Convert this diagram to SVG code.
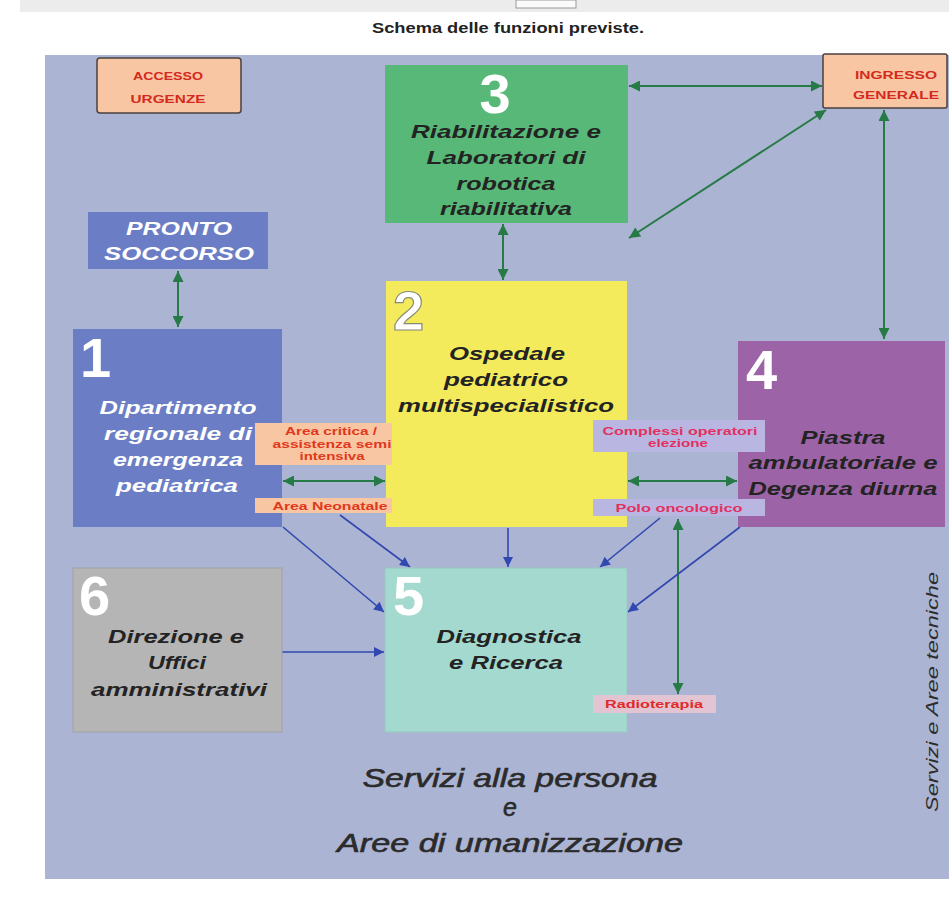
<svg xmlns="http://www.w3.org/2000/svg" width="949" height="900" viewBox="0 0 949 900">
<defs>
<marker id="ga" viewBox="0 0 10 10" refX="10" refY="5" markerUnits="userSpaceOnUse" markerWidth="13" markerHeight="11" orient="auto-start-reverse"><path d="M0,0 L10,5 L0,10 z" fill="#267a45"/></marker>
<marker id="ba" viewBox="0 0 10 10" refX="10" refY="5" markerUnits="userSpaceOnUse" markerWidth="11" markerHeight="10" orient="auto"><path d="M0,0 L10,5 L0,10 z" fill="#3048b0"/></marker>
<style>
.num{font-family:"Liberation Sans",Arial,sans-serif;font-weight:bold;font-size:56px;fill:#fff}
.t{font-family:"Liberation Sans",Arial,sans-serif;font-weight:bold;font-style:italic;font-size:18px;text-anchor:middle}
.dk{fill:#232323}
.wt{fill:#fff}
.lb{font-family:"Liberation Sans",Arial,sans-serif;font-weight:bold;font-size:10px;text-anchor:middle}
.rl{fill:#e0381c}
.pk{fill:#e23060}
.g{stroke:#267a45;stroke-width:2;fill:none}
.b{stroke:#3048b0;stroke-width:1.6;fill:none}
.big{font-family:"Liberation Sans",Arial,sans-serif;font-style:italic;font-size:25px;fill:#2b2b2b;stroke:#2b2b2b;stroke-width:0.6;text-anchor:middle}
</style>
</defs>
<rect width="949" height="900" fill="#fff"/>
<rect x="20" y="0" width="929" height="12" fill="#ececec"/>
<rect x="516" y="0" width="60" height="8" fill="#fafafa" stroke="#9a9a9a" stroke-width="1"/>
<text x="508" y="33" font-family="Liberation Sans, Arial, sans-serif" font-weight="bold" font-size="14" fill="#222" text-anchor="middle" textLength="272" lengthAdjust="spacingAndGlyphs">Schema delle funzioni previste.</text>
<rect x="45" y="55" width="904" height="824" fill="#abb4d3"/>

<g id="connectors">
<line class="g" x1="178" y1="271" x2="178" y2="327" marker-start="url(#ga)" marker-end="url(#ga)"/>
<line class="g" x1="629" y1="86" x2="822" y2="86" marker-start="url(#ga)" marker-end="url(#ga)"/>
<line class="g" x1="826" y1="110" x2="629" y2="238" marker-start="url(#ga)" marker-end="url(#ga)"/>
<line class="g" x1="884" y1="110" x2="884" y2="339" marker-start="url(#ga)" marker-end="url(#ga)"/>
<line class="g" x1="503" y1="224" x2="503" y2="280" marker-start="url(#ga)" marker-end="url(#ga)"/>
<line class="g" x1="283" y1="481" x2="385" y2="481" marker-start="url(#ga)" marker-end="url(#ga)"/>
<line class="g" x1="628" y1="481" x2="737" y2="481" marker-start="url(#ga)" marker-end="url(#ga)"/>
<line class="g" x1="678" y1="519" x2="678" y2="694" marker-start="url(#ga)" marker-end="url(#ga)"/>
<line class="b" x1="283" y1="527" x2="384" y2="612" marker-end="url(#ba)"/>
<line class="b" x1="340" y1="515" x2="410" y2="567" marker-end="url(#ba)"/>
<line class="b" x1="508" y1="528" x2="508" y2="567" marker-end="url(#ba)"/>
<line class="b" x1="660" y1="518" x2="600" y2="567" marker-end="url(#ba)"/>
<line class="b" x1="740" y1="527" x2="628" y2="612" marker-end="url(#ba)"/>
<line class="b" x1="282" y1="652" x2="384" y2="652" marker-end="url(#ba)"/>
</g>

<g id="accesso-urgenze">
<rect x="97" y="58" width="144" height="55" rx="3" fill="#f9c6a3" stroke="#4a4040" stroke-width="1.5"/>
<text class="lb" x="168" y="80" font-size="11" fill="#d42a1e" textLength="70" lengthAdjust="spacingAndGlyphs">ACCESSO</text>
<text class="lb" x="168" y="103" font-size="11" fill="#d42a1e" textLength="75" lengthAdjust="spacingAndGlyphs">URGENZE</text>
</g>

<g id="ingresso-generale">
<rect x="823" y="54" width="124" height="54" rx="2" fill="#f9c6a3" stroke="#4a4040" stroke-width="1.5"/>
<text class="lb" x="896" y="79" font-size="11" fill="#d42a1e" textLength="82" lengthAdjust="spacingAndGlyphs">INGRESSO</text>
<text class="lb" x="896" y="99" font-size="11" fill="#d42a1e" textLength="86" lengthAdjust="spacingAndGlyphs">GENERALE</text>
</g>

<g id="pronto-soccorso">
<rect x="88" y="212" width="180" height="57" fill="#6b7ec5"/>
<text class="t wt" x="179" y="235" textLength="106" lengthAdjust="spacingAndGlyphs">PRONTO</text>
<text class="t wt" x="179" y="260" textLength="150" lengthAdjust="spacingAndGlyphs">SOCCORSO</text>
</g>

<g id="node3">
<rect x="385" y="65" width="243" height="158" fill="#57b878"/>
<text class="num" x="495" y="113" text-anchor="middle">3</text>
<text class="t dk" x="506" y="138" textLength="190" lengthAdjust="spacingAndGlyphs">Riabilitazione e</text>
<text class="t dk" x="506" y="164" textLength="159" lengthAdjust="spacingAndGlyphs">Laboratori di</text>
<text class="t dk" x="506" y="190" textLength="99" lengthAdjust="spacingAndGlyphs">robotica</text>
<text class="t dk" x="506" y="215" textLength="132" lengthAdjust="spacingAndGlyphs">riabilitativa</text>
</g>

<g id="node1">
<rect x="73" y="329" width="209" height="198" fill="#6b7ec5"/>
<text class="num" x="80" y="377">1</text>
<text class="t wt" x="178" y="414" textLength="157" lengthAdjust="spacingAndGlyphs">Dipartimento</text>
<text class="t wt" x="178" y="440" textLength="148" lengthAdjust="spacingAndGlyphs">regionale di</text>
<text class="t wt" x="178" y="466" textLength="130" lengthAdjust="spacingAndGlyphs">emergenza</text>
<text class="t wt" x="177" y="492" textLength="122" lengthAdjust="spacingAndGlyphs">pediatrica</text>
</g>

<g id="node2">
<rect x="386" y="281" width="241" height="246" fill="#f3ea5c"/>
<text class="num" x="393" y="330" stroke="#8a8a7a" stroke-width="1.2">2</text>
<text class="t dk" x="507" y="360" textLength="116" lengthAdjust="spacingAndGlyphs">Ospedale</text>
<text class="t dk" x="506" y="386" textLength="124" lengthAdjust="spacingAndGlyphs">pediatrico</text>
<text class="t dk" x="506" y="412" textLength="216" lengthAdjust="spacingAndGlyphs">multispecialistico</text>
</g>

<g id="area-critica">
<rect x="255" y="423" width="137" height="42" fill="#f9c6a3"/>
<text class="lb rl" x="331" y="435" textLength="92" lengthAdjust="spacingAndGlyphs">Area critica /</text>
<text class="lb rl" x="332" y="448" textLength="119" lengthAdjust="spacingAndGlyphs">assistenza semi</text>
<text class="lb rl" x="332" y="460" textLength="65" lengthAdjust="spacingAndGlyphs">intensiva</text>
</g>

<g id="area-neonatale">
<rect x="255" y="498" width="137" height="15" fill="#f9c6a3"/>
<text class="lb rl" x="330" y="510" textLength="115" lengthAdjust="spacingAndGlyphs">Area Neonatale</text>
</g>

<g id="node4">
<rect x="738" y="341" width="207" height="186" fill="#9d63a7"/>
<text class="num" x="746" y="389">4</text>
<text class="t dk" x="843" y="444" textLength="85" lengthAdjust="spacingAndGlyphs">Piastra</text>
<text class="t dk" x="843" y="469" textLength="189" lengthAdjust="spacingAndGlyphs">ambulatoriale e</text>
<text class="t dk" x="843" y="495" textLength="189" lengthAdjust="spacingAndGlyphs">Degenza diurna</text>
</g>

<g id="complessi-operatori">
<rect x="593" y="420" width="172" height="32" fill="#b9b7e2"/>
<text class="lb pk" x="680" y="435" textLength="155" lengthAdjust="spacingAndGlyphs">Complessi operatori</text>
<text class="lb pk" x="678" y="447" textLength="60" lengthAdjust="spacingAndGlyphs">elezione</text>
</g>

<g id="polo-oncologico">
<rect x="593" y="499" width="172" height="17" fill="#b9b7e2"/>
<text class="lb pk" x="679" y="512" textLength="127" lengthAdjust="spacingAndGlyphs">Polo oncologico</text>
</g>

<g id="node6">
<rect x="73" y="568" width="209" height="164" fill="#b5b5b5" stroke="#a2a2a6" stroke-width="1"/>
<text class="num" x="79" y="615">6</text>
<text class="t dk" x="176" y="643" textLength="136" lengthAdjust="spacingAndGlyphs">Direzione e</text>
<text class="t dk" x="177" y="669" textLength="58" lengthAdjust="spacingAndGlyphs">Uffici</text>
<text class="t dk" x="179" y="696" textLength="176" lengthAdjust="spacingAndGlyphs">amministrativi</text>
</g>

<g id="node5">
<rect x="385" y="568" width="242" height="164" fill="#a3d9cf" stroke="#98c8c0" stroke-width="1"/>
<text class="num" x="393" y="615">5</text>
<text class="t dk" x="509" y="643" textLength="145" lengthAdjust="spacingAndGlyphs">Diagnostica</text>
<text class="t dk" x="506" y="669" textLength="114" lengthAdjust="spacingAndGlyphs">e Ricerca</text>
</g>

<g id="radioterapia">
<rect x="593" y="695" width="123" height="18" fill="#e2c4d2"/>
<text class="lb" x="654" y="708" fill="#e02a2a" textLength="98" lengthAdjust="spacingAndGlyphs">Radioterapia</text>
</g>

<g id="labels">
<text class="big" x="510" y="787" textLength="295" lengthAdjust="spacingAndGlyphs">Servizi alla persona</text>
<text class="big" x="510" y="816">e</text>
<text class="big" x="510" y="852" textLength="346" lengthAdjust="spacingAndGlyphs">Aree di umanizzazione</text>
<text x="0" y="0" transform="translate(938,692) rotate(-90)" font-family="Liberation Sans, Arial, sans-serif" font-style="italic" font-size="17" fill="#2b2b2b" text-anchor="middle" textLength="240" lengthAdjust="spacingAndGlyphs">Servizi e Aree tecniche</text>
</g>
</svg>
